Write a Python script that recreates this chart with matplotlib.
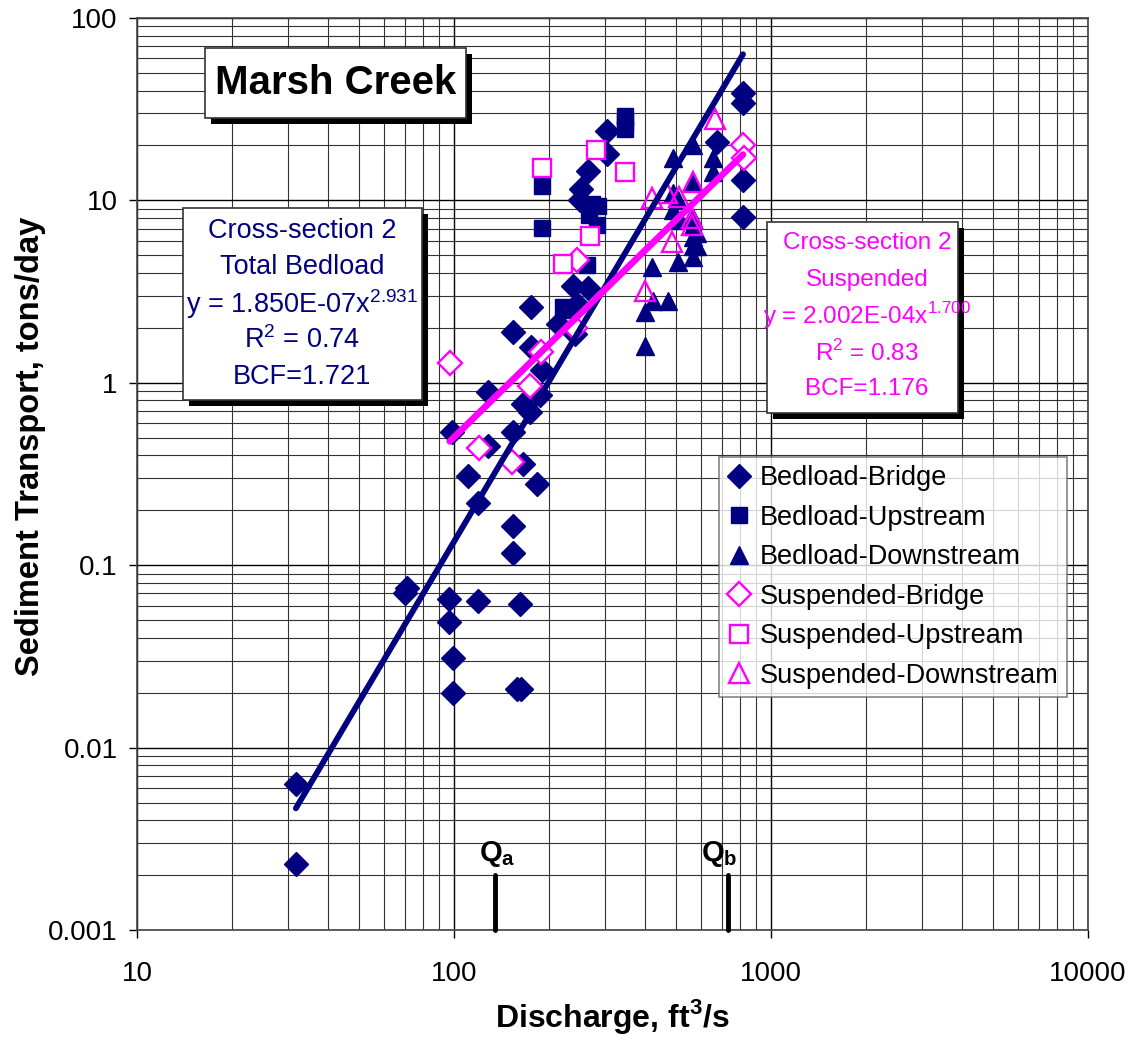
import numpy as np
import matplotlib.pyplot as plt
from matplotlib.patches import Rectangle
from matplotlib.ticker import FixedLocator, FixedFormatter, NullFormatter, LogLocator

plt.rcParams['font.family'] = ['Liberation Sans', 'DejaVu Sans']
plt.rcParams['mathtext.fontset'] = 'custom'
plt.rcParams['mathtext.rm'] = 'Liberation Sans'
plt.rcParams['mathtext.bf'] = 'Liberation Sans:bold'

NAVY = '#000080'
PINK = '#FF00FF'

# ---- data (discharge ft3/s, transport tons/day) ----
bedBridge_q = [31.7, 31.7, 71, 70, 96.5, 96.5, 99, 99, 119, 162, 158, 163, 153, 154, 119, 111,
               128, 98.5, 128, 153, 165, 183, 165, 174, 187, 154, 175, 175, 190, 237, 265, 244,
               213, 241, 304, 304, 265, 252, 250, 816, 816, 676, 816, 816]
bedBridge_t = [0.0063, 0.0023, 0.075, 0.070, 0.065, 0.049, 0.031, 0.020, 0.064, 0.061, 0.021, 0.021,
               0.117, 0.165, 0.22, 0.31, 0.45, 0.54, 0.89, 0.54, 0.36, 0.28, 0.77, 0.69, 0.86, 1.9,
               2.6, 1.57, 1.18, 3.4, 3.3, 2.7, 2.1, 1.85, 24, 18, 14.5, 11.5, 10, 39, 34, 21, 13, 8.1]

bedUp_q = [346, 346, 346, 190, 190, 272, 285, 266, 283, 269, 221, 263, 221, 230]
bedUp_t = [29, 27, 24.5, 12, 7.1, 9.6, 9.3, 8.3, 7.3, 6.4, 4.5, 4.4, 2.6, 2.5]

bedDown_q = [491, 567, 656, 656, 491, 509, 491, 516, 567, 567, 567, 567, 509, 421, 473, 424,
             400, 400, 584, 584, 567, 567]
bedDown_t = [17.1, 20.1, 17.1, 14.3, 11.0, 10.0, 8.9, 7.8, 7.2, 6.3, 5.6, 4.9, 4.6, 4.3, 2.8, 2.8,
             2.45, 1.6, 5.6, 6.6, 12.6, 8.0]

susBridge_q = [97, 120, 152, 174, 188, 244, 240, 816, 822]
susBridge_t = [1.28, 0.44, 0.37, 0.96, 1.47, 4.7, 2.0, 20, 17]

susUp_q = [190, 280, 346, 269, 221]
susUp_t = [15, 19, 14.3, 6.4, 4.5]

susDown_q = [666, 421, 470, 512, 567, 565, 565, 487, 400]
susDown_t = [28, 10.3, 11, 10.4, 12.6, 8.0, 7.3, 5.9, 3.2]

# power-law trendlines y = a * x^b
bed_a, bed_b, bed_range = 1.850e-07, 2.931, (31.7, 816)
sus_a, sus_b, sus_range = 2.002e-04, 1.700, (97, 816)

# threshold discharges marked on the x axis
Qa, Qb = 135, 731

W, H = 1131, 1046
fig = plt.figure(figsize=(W / 100, H / 100), dpi=100)
ax = fig.add_axes([137 / W, 116 / H, 951 / W, 912 / H])
ax.set_xscale('log')
ax.set_yscale('log')
ax.set_xlim(10, 10000)
ax.set_ylim(0.001, 100)

ax.xaxis.set_major_locator(FixedLocator([10, 100, 1000, 10000]))
ax.xaxis.set_major_formatter(FixedFormatter(['10', '100', '1000', '10000']))
ax.yaxis.set_major_locator(FixedLocator([0.001, 0.01, 0.1, 1, 10, 100]))
ax.yaxis.set_major_formatter(FixedFormatter(['0.001', '0.01', '0.1', '1', '10', '100']))
ax.xaxis.set_minor_locator(LogLocator(base=10, subs=np.arange(2, 10)))
ax.yaxis.set_minor_locator(LogLocator(base=10, subs=np.arange(2, 10)))
ax.xaxis.set_minor_formatter(NullFormatter())
ax.yaxis.set_minor_formatter(NullFormatter())
ax.tick_params(which='major', direction='out', length=6, width=1, labelsize=20, pad=8)
ax.tick_params(axis='x', which='major', pad=16)
ax.tick_params(which='minor', length=0)
ax.grid(which='major', color='black', lw=1.0)
ax.grid(which='minor', color='#333333', lw=0.8)
ax.set_axisbelow(True)
for s in ax.spines.values():
    s.set_color('#444444')
    s.set_linewidth(1.2)

ax.plot(bedBridge_q, bedBridge_t, 'D', ms=12, color=NAVY, mec=NAVY, label='Bedload-Bridge', zorder=3)
ax.plot(bedUp_q, bedUp_t, 's', ms=12, color=NAVY, mec=NAVY, label='Bedload-Upstream', zorder=3)
ax.plot(bedDown_q, bedDown_t, '^', ms=13, color=NAVY, mec=NAVY, label='Bedload-Downstream', zorder=3)
ax.plot(susBridge_q, susBridge_t, 'D', ms=12, mfc='white', mec=PINK, mew=1.7,
        label='Suspended-Bridge', zorder=3)
ax.plot(susUp_q, susUp_t, 's', ms=13, mfc='white', mec=PINK, mew=1.7,
        label='Suspended-Upstream', zorder=3)
ax.plot(susDown_q, susDown_t, '^', ms=14, mfc='none', mec=PINK, mew=1.7,
        label='Suspended-Downstream', zorder=3)

xb = np.geomspace(*bed_range, 50)
ax.plot(xb, bed_a * xb ** bed_b, color=NAVY, lw=4.2, solid_capstyle='round', zorder=4)
xs = np.geomspace(*sus_range, 50)
ax.plot(xs, sus_a * xs ** sus_b, color=PINK, lw=4.8, solid_capstyle='round', zorder=5)

# Qa / Qb markers on the x axis
for q, qlab, lab in [(Qa, 137, 'Q$_\\mathbf{a}$'), (Qb, 685, 'Q$_\\mathbf{b}$')]:
    ax.plot([q, q], [0.001, 0.002], color='black', lw=3.5, solid_capstyle='round',
            zorder=6, clip_on=False)
    ax.text(qlab, 0.00215, lab, ha='center', va='bottom', fontsize=21, fontweight='bold', zorder=6)

ax.set_xlabel('Discharge, ft$^\\mathbf{3}$/s', fontsize=23, fontweight='bold')
ax.xaxis.set_label_coords(0.5, -0.073)
ax.set_ylabel('Sediment Transport, tons/day', fontsize=23.5, fontweight='bold')
ax.yaxis.set_label_coords(-0.096, 0.53)

leg = ax.legend(loc='upper left', bbox_to_anchor=(719 / W, 1 - 457 / H),
                bbox_transform=fig.transFigure, fontsize=19.5, frameon=True, fancybox=False,
                borderaxespad=0, handlelength=0.9, handletextpad=0.3, borderpad=0.3,
                labelspacing=0.5, markerscale=1.0)
leg.get_frame().set_edgecolor('#666666')
leg.get_frame().set_linewidth(1.2)
leg.set_zorder(10)


def shadow_box(x0, y0, x1, y1, off=6):
    # pixel coords measured from top-left of the picture
    fx0, fx1 = x0 / W, x1 / W
    fy0, fy1 = 1 - y1 / H, 1 - y0 / H
    fig.add_artist(Rectangle((fx0 + off / W, fy0 - off / H), fx1 - fx0, fy1 - fy0,
                             transform=fig.transFigure, facecolor='black', edgecolor='none',
                             zorder=8))
    fig.add_artist(Rectangle((fx0, fy0), fx1 - fx0, fy1 - fy0, transform=fig.transFigure,
                             facecolor='white', edgecolor='#333333', lw=1.2, zorder=9))


shadow_box(205, 48, 466, 118)
fig.text(336 / W, 1 - 83 / H, 'Marsh Creek', ha='center', va='center', fontsize=29,
         fontweight='bold', zorder=11)

shadow_box(183, 208, 422, 400)
blue_lines = ['Cross-section 2', 'Total Bedload', 'y = 1.850E-07x$^{2.931}$', 'R$^2$ = 0.74',
              'BCF=1.721']
for i, t in enumerate(blue_lines):
    fig.text(302 / W, 1 - (231 + i * 36.5) / H, t, ha='center', va='center', fontsize=19.5,
             color=NAVY, zorder=11)

shadow_box(767, 222, 958, 413)
pink_lines = ['Cross-section 2', 'Suspended', 'y = 2.002E-04x$^{1.700}$', 'R$^2$ = 0.83',
              'BCF=1.176']
for i, t in enumerate(pink_lines):
    fig.text(867 / W, 1 - (243 + i * 36.5) / H, t, ha='center', va='center', fontsize=17.5,
             color=PINK, zorder=11)

fig.savefig('out.png', dpi=100)
